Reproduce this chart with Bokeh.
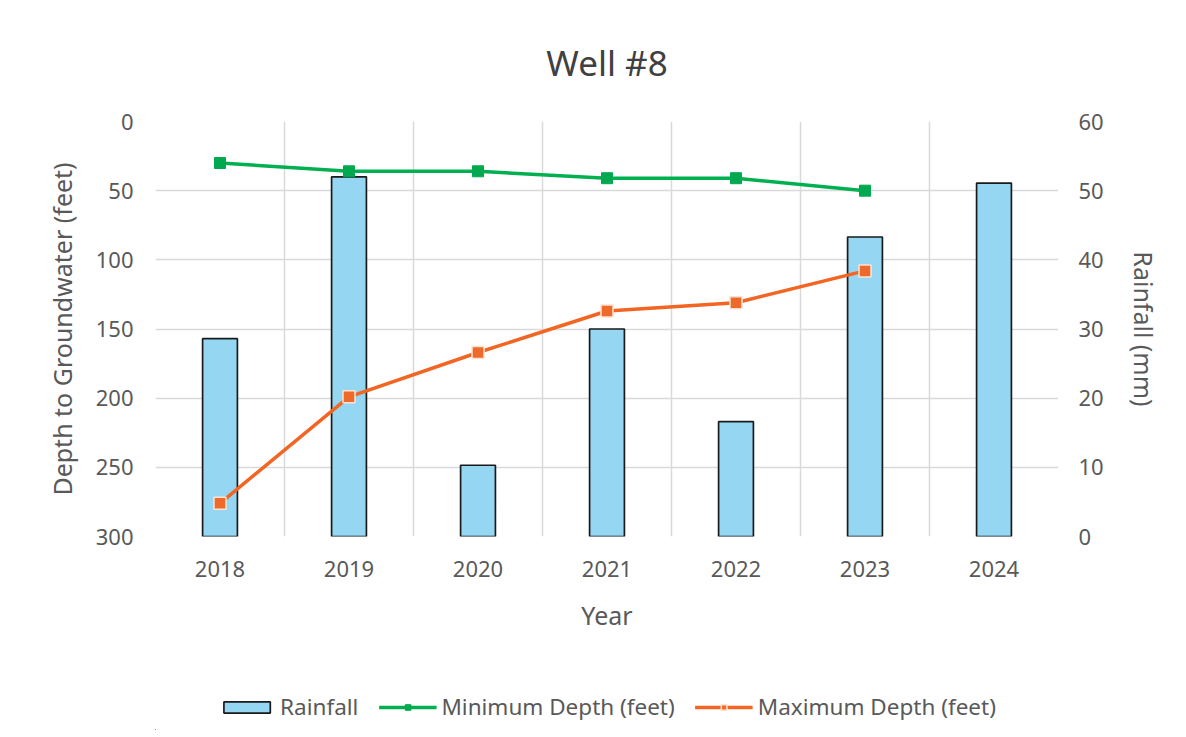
from bokeh.plotting import figure
from bokeh.layouts import column
from bokeh.models import Range1d, LinearAxis, FixedTicker, Legend, LegendItem, ColumnDataSource
from bokeh.embed import file_html
from bokeh.resources import INLINE

years = ["2018", "2019", "2020", "2021", "2022", "2023", "2024"]
rainfall = [28.6, 52.0, 10.3, 30.0, 16.6, 43.3, 51.1]
depth_years = ["2018", "2019", "2020", "2021", "2022", "2023"]
min_depth = [30, 36, 36, 41, 41, 50]
max_depth = [276, 199, 167, 137, 131, 108]
left_ticks = [0, 50, 100, 150, 200, 250, 300]
right_ticks = [0, 10, 20, 30, 40, 50, 60]

FONT = "Noto Sans"
TXT = "#595959"
BAR_STYLE = dict(fill_color="#95d6f2", line_color="#1a1a1a", line_width=1.7)
MIN_LINE = dict(line_color="#00b050", line_width=3.5)
MIN_MARK = dict(marker="square", size=11, fill_color="#00a84f", line_color="#00a84f")
MAX_LINE = dict(line_color="#f26522", line_width=3.5)
MAX_MARK = dict(marker="square", size=12, fill_color="#ee6a2a", line_color="#fde3d3", line_width=1.5)

xpos = {y: i + 0.5 for i, y in enumerate(years)}
bar_src = ColumnDataSource(dict(x=[xpos[y] for y in years], rain=rainfall))
dep_src = ColumnDataSource(dict(x=[xpos[y] for y in depth_years], mn=min_depth, mx=max_depth))

p = figure(width=1180, height=646, x_range=Range1d(0, len(years)), y_range=Range1d(300, 0),
           output_backend="svg", toolbar_location=None,
           min_border_left=155, min_border_right=122, min_border_top=120, min_border_bottom=110)
p.extra_y_ranges = {"rain": Range1d(0, 60)}

p.title.text = "Well #8"
p.title.align = "center"
p.title.text_font = FONT
p.title.text_font_size = "35px"
p.title.text_font_style = "normal"
p.title.text_color = "#404040"
p.title.standoff = 72

p.outline_line_color = None
p.background_fill_color = "white"
p.border_fill_color = "white"

# grids
p.xgrid.ticker = FixedTicker(ticks=list(range(len(years) + 1)))
p.ygrid.ticker = FixedTicker(ticks=left_ticks)
for g in (p.xgrid, p.ygrid):
    g.grid_line_color = "#d9d9d9"
    g.grid_line_width = 1.5

p.vbar(x="x", top="rain", bottom=0, width=0.27, source=bar_src, y_range_name="rain", **BAR_STYLE)
p.line("x", "mn", source=dep_src, **MIN_LINE)
p.scatter("x", "mn", source=dep_src, **MIN_MARK)
p.line("x", "mx", source=dep_src, **MAX_LINE)
p.scatter("x", "mx", source=dep_src, **MAX_MARK)

# axes
def style_axis(ax):
    ax.axis_line_color = None
    ax.major_tick_line_color = None
    ax.minor_tick_line_color = None
    ax.major_tick_out = 0
    ax.major_tick_in = 0
    ax.major_label_text_font = FONT
    ax.major_label_text_font_size = "22px"
    ax.major_label_text_color = TXT
    ax.axis_label_text_font = FONT
    ax.axis_label_text_font_size = "25px"
    ax.axis_label_text_font_style = "normal"
    ax.axis_label_text_color = TXT

xa = p.xaxis[0]
xa.ticker = FixedTicker(ticks=[xpos[y] for y in years])
xa.major_label_overrides = {xpos[y]: y for y in years}
xa.axis_label = "Year"
xa.major_label_standoff = 24
xa.axis_label_standoff = 18
style_axis(xa)

ya = p.yaxis[0]
ya.ticker = FixedTicker(ticks=left_ticks)
ya.axis_label = "Depth to Groundwater (feet)"
ya.major_label_standoff = 22
ya.axis_label_standoff = 14
style_axis(ya)

ra = LinearAxis(y_range_name="rain", ticker=FixedTicker(ticks=right_ticks), axis_label="Rainfall (mm)")
ra.major_label_standoff = 20
ra.axis_label_standoff = 20
style_axis(ra)
p.add_layout(ra, "right")

# legend strip below the chart: same series, ranges chosen so only the legend shows
lg = figure(width=1180, height=84, x_range=Range1d(100, 101), y_range=Range1d(1000, 1001),
            output_backend="svg", toolbar_location=None,
            x_axis_location=None, y_axis_location=None,
            min_border_left=0, min_border_right=0, min_border_top=0, min_border_bottom=0)
lg.grid.visible = False
lg.outline_line_color = None
lg.background_fill_color = "white"
lg.border_fill_color = "white"
r_bar = lg.vbar(x="x", top="rain", width=0.27, source=bar_src, **BAR_STYLE)
r_ml = lg.line("x", "mn", source=dep_src, **MIN_LINE)
r_mm = lg.scatter("x", "mn", source=dep_src, **MIN_MARK)
r_xl = lg.line("x", "mx", source=dep_src, **MAX_LINE)
r_xm = lg.scatter("x", "mx", source=dep_src, **MAX_MARK)

legend = Legend(items=[
    LegendItem(label="Rainfall", renderers=[r_bar]),
    LegendItem(label="Minimum Depth (feet)", renderers=[r_ml, r_mm]),
    LegendItem(label="Maximum Depth (feet)", renderers=[r_xl, r_xm]),
], orientation="horizontal", location="bottom_center")
legend.label_text_font = FONT
legend.label_text_font_size = "22.5px"
legend.label_text_color = TXT
legend.glyph_width = 58
legend.glyph_height = 14
legend.spacing = 20
legend.label_standoff = 5
legend.border_line_color = None
legend.background_fill_alpha = 0
legend.padding = 0
legend.margin = 8
lg.add_layout(legend)

layout = column(p, lg, spacing=0)
open("out.html", "w").write(file_html(layout, INLINE))
